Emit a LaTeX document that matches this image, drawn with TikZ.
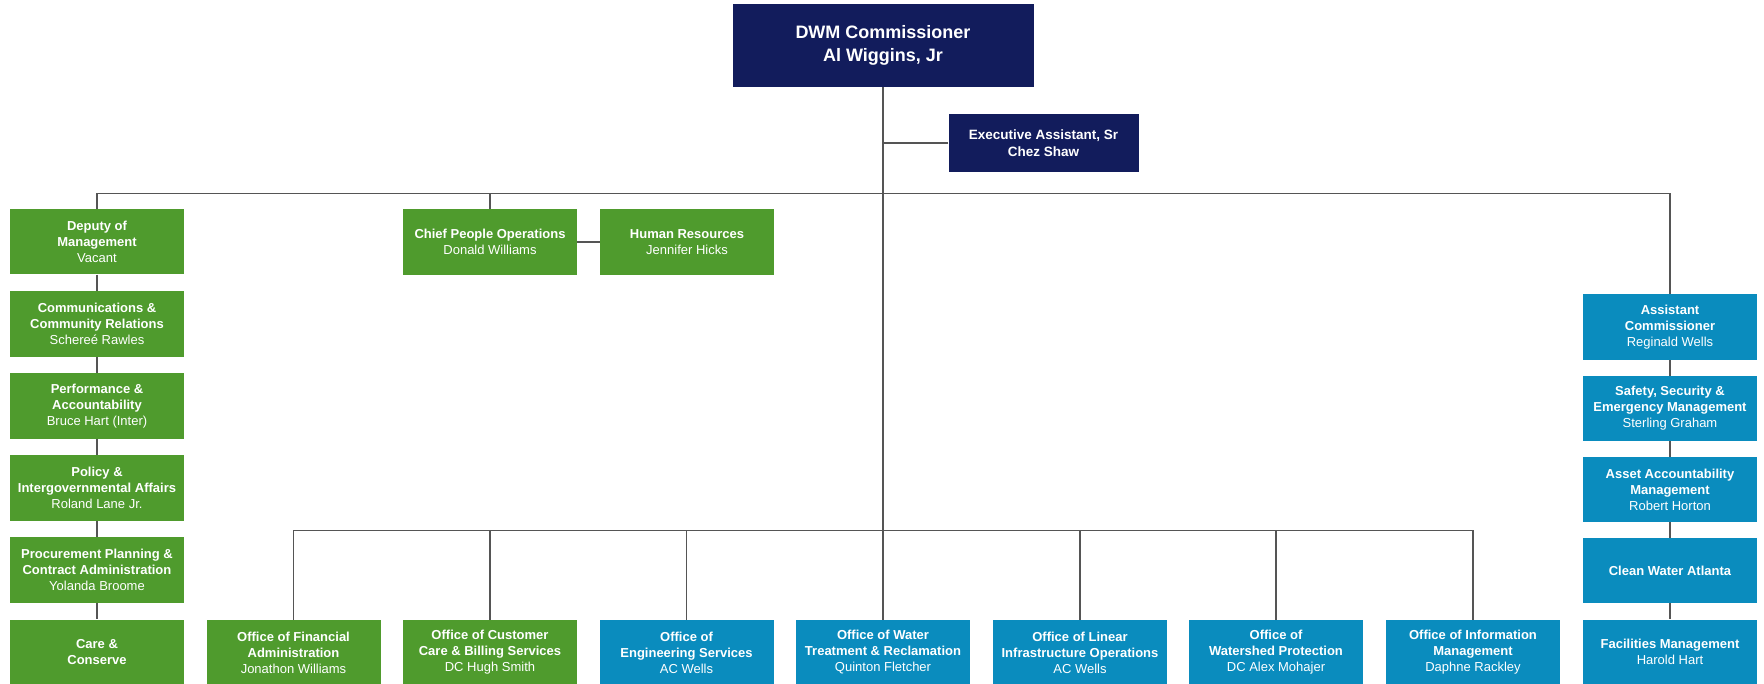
\documentclass[tikz,border=0pt]{standalone}
\usepackage{fontspec}
\setmainfont{Liberation Sans}
\definecolor{navyc}{RGB}{18,28,92}
\definecolor{greenc}{RGB}{79,155,45}
\definecolor{bluec}{RGB}{10,140,190}
\definecolor{linec}{RGB}{85,85,85}
\begin{document}
\begin{tikzpicture}[x=1pt,y=-1pt,
  orgbox/.style={rectangle,inner sep=0pt,align=center,text=white,
    minimum width=174pt,minimum height=65.5pt,
    font=\bfseries\fontsize{13}{16}\selectfont},
  navybox/.style={orgbox,fill=navyc},
  greenbox/.style={orgbox,fill=greenc},
  bluebox/.style={orgbox,fill=bluec},
  conn/.style={draw=linec,line width=1.5pt}]
\useasboundingbox (0,0) rectangle (1764,684);
\fill[white] (0,0) rectangle (1764,684);
% top
\node[navybox,minimum width=301pt,minimum height=82.5pt,font=\bfseries\fontsize{18}{23}\selectfont] (comm) at (883,45.75) {DWM Commissioner\\Al Wiggins, Jr};
\node[navybox,minimum width=190pt,minimum height=58pt,font=\bfseries\fontsize{13.5}{17}\selectfont] (exec) at (1043.5,143) {Executive Assistant, Sr\\Chez Shaw};
% left column
\node[greenbox] (l1) at (97,241.75) {Deputy of\\Management\\\mdseries Vacant};
\node[greenbox] (l2) at (97,324) {Communications \&\\Community Relations\\\mdseries Schereé Rawles};
\node[greenbox] (l3) at (97,406) {Performance \&\\Accountability\\\mdseries Bruce Hart (Inter)};
\node[greenbox] (l4) at (97,488) {Policy \&\\Intergovernmental Affairs\\\mdseries Roland Lane Jr.};
\node[greenbox] (l5) at (97,570) {Procurement Planning \&\\Contract Administration\\\mdseries Yolanda Broome};
\node[greenbox] (l6) at (97,652.25) {Care \&\\Conserve};
% people ops
\node[greenbox] (cpo) at (490,242) {Chief People Operations\\\mdseries Donald Williams};
\node[greenbox] (hr) at (687,242) {Human Resources\\\mdseries Jennifer Hicks};
% right column
\node[bluebox] (r1) at (1670,327) {Assistant\\Commissioner\\\mdseries Reginald Wells};
\node[bluebox] (r2) at (1670,408.5) {Safety, Security \&\\Emergency Management\\\mdseries Sterling Graham};
\node[bluebox] (r3) at (1670,489.5) {Asset Accountability\\Management\\\mdseries Robert Horton};
\node[bluebox] (r4) at (1670,570.5) {Clean Water Atlanta};
\node[bluebox] (r5) at (1670,652.25) {Facilities Management\\\mdseries Harold Hart};
% bottom row
\node[greenbox] (b1) at (293.5,652.5) {Office of Financial\\Administration\\\mdseries Jonathon Williams};
\node[greenbox] (b2) at (490,652.5) {Office of Customer\\Care \& Billing Services\\\mdseries DC Hugh Smith};
\node[bluebox] (b3) at (686.5,652.5) {Office of\\Engineering Services\\\mdseries AC Wells};
\node[bluebox] (b4) at (883,652.5) {Office of Water\\Treatment \& Reclamation\\\mdseries Quinton Fletcher};
\node[bluebox] (b5) at (1080,652.5) {Office of Linear\\Infrastructure Operations\\\mdseries AC Wells};
\node[bluebox] (b6) at (1276,652.5) {Office of\\Watershed Protection\\\mdseries DC Alex Mohajer};
\node[bluebox] (b7) at (1473,652.5) {Office of Information\\Management\\\mdseries Daphne Rackley};
% connectors
\coordinate (tb) at (0,193.5);
\coordinate (bb) at (0,530.5);
\draw[conn] (comm.south) -- (b4.north);
\draw[conn] (exec.west) -- (exec.west -| comm.south);
\draw[conn] (l1.north) |- (tb -| r1.north) -- (r1.north);
\draw[conn] (cpo.north) -- (cpo.north |- tb);
\draw[conn] (cpo.east) -- (hr.west);
\draw[conn] (l1.south) -- (l2.north);
\draw[conn] (l2.south) -- (l3.north);
\draw[conn] (l3.south) -- (l4.north);
\draw[conn] (l4.south) -- (l5.north);
\draw[conn] (l5.south) -- (l6.north);
\draw[conn] (r1.south) -- (r2.north);
\draw[conn] (r2.south) -- (r3.north);
\draw[conn] (r3.south) -- (r4.north);
\draw[conn] (r4.south) -- (r5.north);
\draw[conn] (b1.north) |- (bb -| b7.north) -- (b7.north);
\draw[conn] (b2.north) -- (b2.north |- bb);
\draw[conn] (b3.north) -- (b3.north |- bb);
\draw[conn] (b5.north) -- (b5.north |- bb);
\draw[conn] (b6.north) -- (b6.north |- bb);
\end{tikzpicture}
\end{document}
